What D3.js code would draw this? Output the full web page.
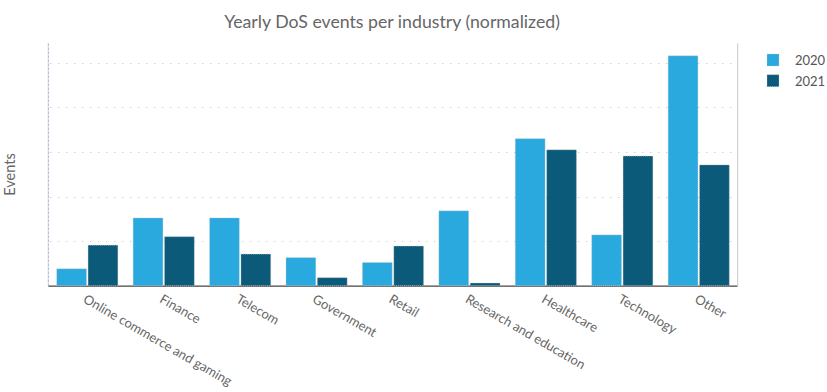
<!DOCTYPE html>
<html>
<head>
<meta charset="utf-8">
<script src="https://cdn.jsdelivr.net/npm/d3@7"></script>
<style>
  body { margin: 0; background: #fff; }
  svg { display: block; font-family: Lato, "Open Sans", sans-serif; }
</style>
</head>
<body>
<svg id="chart" width="827" height="392"></svg>
<script>
const categories = ["Online commerce and gaming", "Finance", "Telecom", "Government", "Retail",
  "Research and education", "Healthcare", "Technology", "Other"];
const seriesNames = ["2020", "2021"];
const values2020 = [0.38, 1.52, 1.52, 0.63, 0.52, 1.68, 3.30, 1.14, 5.16];
const values2021 = [0.91, 1.10, 0.71, 0.18, 0.89, 0.06, 3.05, 2.91, 2.71];
const yTicks = [1, 2, 3, 4, 5];
const colors = ["#2aa9df", "#0b5a7a"];

(function () {
const svg = d3.select("#chart");
const pLeft = 48.3, pRight = 737.7, pTop = 43.3, pBottom = 285.7;

const x = d3.scaleBand().domain(categories).range([pLeft, pRight]).paddingInner(0.2).paddingOuter(0.11);
const xi = d3.scaleBand().domain(seriesNames).range([0, x.bandwidth()]).padding(0);
const y = d3.scaleLinear().domain([0, 5.44]).range([pBottom, pTop]);

// gridlines
svg.append("g").selectAll("line").data(yTicks).join("line")
  .attr("x1", pLeft + 2).attr("x2", pRight - 4)
  .attr("y1", d => Math.round(y(d)) + 0.5).attr("y2", d => Math.round(y(d)) + 0.5)
  .attr("stroke", "#b8b8b8").attr("stroke-width", 1).attr("stroke-dasharray", "1,7");

// baseline
svg.append("line").attr("x1", pLeft).attr("x2", pRight).attr("y1", pBottom + 0.5).attr("y2", pBottom + 0.5)
  .attr("stroke", "#444").attr("stroke-width", 1.2);

// left axis
svg.append("line").attr("x1", pLeft).attr("x2", pLeft).attr("y1", pTop).attr("y2", pBottom)
  .attr("stroke", "#aaaacc").attr("stroke-width", 1).attr("stroke-dasharray", "3,1");
// right border
svg.append("line").attr("x1", pRight).attr("x2", pRight).attr("y1", pTop).attr("y2", pBottom + 1)
  .attr("stroke", "#c8c8c8").attr("stroke-width", 1);

const data = categories.map((c, i) => ({ c, vals: [values2020[i], values2021[i]] }));
const groups = svg.append("g").selectAll("g").data(data).join("g")
  .attr("transform", d => `translate(${x(d.c)},0)`);
groups.selectAll("rect").data(d => d.vals.map((v, j) => ({ v, s: seriesNames[j], j }))).join("rect")
  .attr("x", d => xi(d.s) + (d.j === 1 ? 0.8 : 0))
  .attr("width", xi.bandwidth() - 0.8)
  .attr("y", d => y(d.v))
  .attr("height", d => pBottom - y(d.v))
  .attr("fill", d => colors[d.j])
  .attr("stroke", "#c9c9c9").attr("stroke-width", 0.6).attr("stroke-dasharray", "1,1");

// x labels
svg.append("g").selectAll("text").data(categories).join("text")
  .attr("transform", d => `translate(${x(d) + x.bandwidth() / 2 - 5},${pBottom + 16}) rotate(30)`)
  .attr("font-size", 13).attr("fill", "#666")
  .text(d => d);

// title
svg.append("text").attr("x", 392).attr("y", 28).attr("text-anchor", "middle")
  .attr("font-size", 17.7).attr("fill", "#666").text("Yearly DoS events per industry (normalized)");

// y label
svg.append("text").attr("transform", `translate(15,${(pTop + pBottom) / 2 + 10}) rotate(-90)`)
  .attr("text-anchor", "middle").attr("font-size", 14.5).attr("fill", "#666").text("Events");

// legend
const lg = svg.append("g").selectAll("g").data(seriesNames).join("g")
  .attr("transform", (d, i) => `translate(767,${54 + i * 20.7})`);
lg.append("rect").attr("width", 12).attr("height", 12).attr("fill", (d, i) => colors[i])
  .attr("stroke", "#c9c9c9").attr("stroke-width", 0.6).attr("stroke-dasharray", "1,1");
lg.append("text").attr("x", 28).attr("y", 11).attr("font-size", 13).attr("fill", "#555").text(d => d);
})();
</script>
</body>
</html>
